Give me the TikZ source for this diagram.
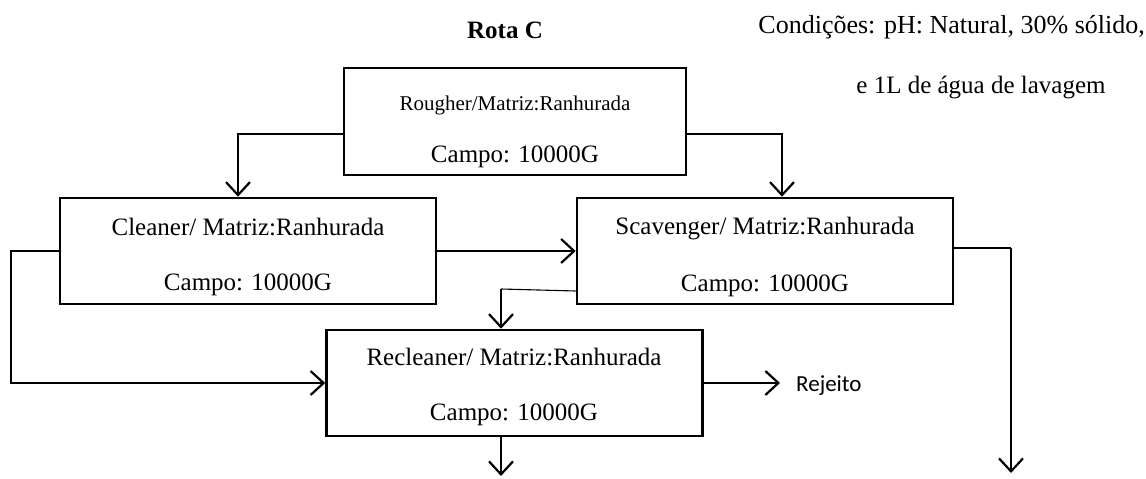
\documentclass[tikz,border=0pt]{standalone}
\usepackage{fontspec}
\setmainfont{Liberation Serif}
\newfontfamily\calib{Carlito}
\usetikzlibrary{arrows.meta}
\begin{document}
\begin{tikzpicture}[x=1pt,y=-1pt,
 box/.style={draw, line width=2.6pt, minimum width=376pt, minimum height=106pt, inner sep=0pt},
 conn/.style={line width=2.2pt},
 arr/.style={conn, -{Straight Barb[length=13pt,width=24pt,line width=2.2pt]}},
 thinline/.style={line width=1.1pt},
 lbl/.style={inner sep=0pt, font=\fontsize{25}{29}\selectfont},
 slbl/.style={inner sep=0pt, font=\fontsize{21}{26}\selectfont}]
\useasboundingbox (0,0) rectangle (1146,479);
% boxes
\node[box, minimum width=342pt, minimum height=107pt] (R) at (515,121.5) {};
\node[box] (C) at (248,251) {};
\node[box] (S) at (765,251) {};
\node[box] (RC) at (514.5,383) {};
% box texts
\node[slbl] (R1) at (515,105) {Rougher/Matriz:Ranhurada};
\node[lbl] (R2) at (515,157) {Campo: 10000G};
\node[lbl] (C1) at (248,227) {Cleaner/ Matriz:Ranhurada};
\node[lbl] (C2) at (248,285) {Campo: 10000G};
\node[lbl] (S1) at (765,229) {Scavenger/ Matriz:Ranhurada};
\node[lbl] (S2) at (765,286) {Campo: 10000G};
\node[lbl] (RC1) at (514,357) {Recleaner/ Matriz:Ranhurada};
\node[lbl] (RC2) at (514,415) {Campo: 10000G};
% top texts
\node[inner sep=0pt, font=\bfseries\fontsize{25}{29}\selectfont] (title) at (505,30) {Rota C};
\node[inner sep=0pt, anchor=east, font=\fontsize{26}{30}\selectfont] (cond1) at (1145,27) {Condições: pH: Natural, 30\% sólido,};
\node[inner sep=0pt, font=\fontsize{25}{30}\selectfont] (cond2) at (981,88) {e 1L de água de lavagem};
\node[inner sep=0pt, anchor=west, font=\calib\fontsize{23}{28}\selectfont] (rej) at (796,386) {Rejeito};
% connectors
\draw[arr] ([yshift=-12.5pt]R.west) -| ([xshift=-10pt]C.north);
\draw[arr] ([yshift=-12.5pt]R.east) -| ([xshift=17pt]S.north);
\draw[arr] (C.east) -- (S.west);
\draw[arr] (C.west) -- ++(-48,0) |- (RC.west);
\coordinate (k1) at (501,289);
\draw[thinline] ([yshift=-40pt]S.west) -- (k1);
\draw[arr] (k1) -- (k1 |- RC.north);
\coordinate (k2) at (1011,248);
\coordinate (e2) at (1011,473);
\draw[thinline] ([yshift=3pt]S.east) -- (k2);
\draw[conn] ([yshift=3pt]S.east) -- ++(30,0);
\draw[arr] (k2) -- (e2);
\coordinate (rj) at (780,383);
\draw[arr] (RC.east) -- (rj);
\coordinate (bot) at (501,476);
\draw[arr] (k1 |- RC.south) -- (bot);
\end{tikzpicture}
\end{document}
